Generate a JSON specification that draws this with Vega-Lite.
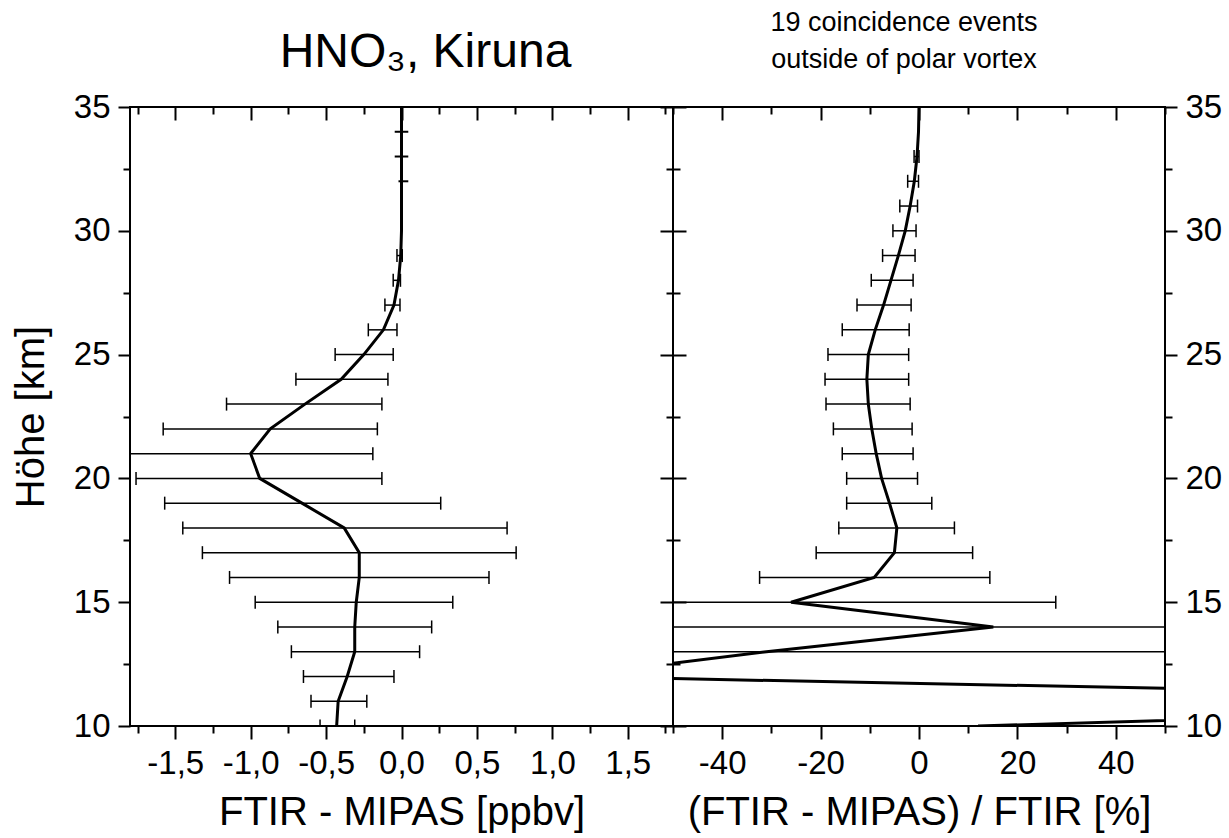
{
  "$schema": "https://vega.github.io/schema/vega-lite/v6.json",
  "autosize": "pad",
  "padding": {"left": 10, "top": 8, "right": 5, "bottom": 5},
  "background": "white",
  "bounds": "flush",
  "spacing": 0,
  "config": {
    "font": "Liberation Sans",
    "view": {"stroke": "black", "strokeWidth": 2},
    "axis": {
      "grid": false, "domain": false, "tickColor": "black", "tickWidth": 2,
      "labelColor": "black", "labelFont": "Liberation Sans", "labelFontSize": 33,
      "titleFont": "Liberation Sans", "titleFontSize": 40, "titleFontWeight": "normal", "titleColor": "black",
      "labelFlush": false, "labelOverlap": false
    },
    "title": {"font": "Liberation Sans", "fontWeight": "normal", "color": "black"}
  },
  "datasets": {
    "leftLine": [
      {"h": 35, "v": 0}, {"h": 34, "v": 0}, {"h": 33, "v": 0}, {"h": 32, "v": 0}, {"h": 31, "v": 0},
      {"h": 30, "v": 0}, {"h": 29, "v": -0.005}, {"h": 28, "v": -0.02}, {"h": 27, "v": -0.05},
      {"h": 26, "v": -0.12}, {"h": 25, "v": -0.25}, {"h": 24, "v": -0.40}, {"h": 23, "v": -0.64},
      {"h": 22, "v": -0.87}, {"h": 21, "v": -1.0}, {"h": 20, "v": -0.94}, {"h": 19, "v": -0.66},
      {"h": 18, "v": -0.38}, {"h": 17, "v": -0.28}, {"h": 16, "v": -0.28}, {"h": 15, "v": -0.30},
      {"h": 14, "v": -0.31}, {"h": 13, "v": -0.31}, {"h": 12, "v": -0.36}, {"h": 11, "v": -0.42},
      {"h": 10, "v": -0.43}
    ],
    "leftDash": [
      {"h": 34, "lo": -0.045, "hi": 0.045},
      {"h": 33, "lo": -0.045, "hi": 0.045},
      {"h": 32, "lo": -0.02, "hi": 0.045}
    ],
    "leftErr": [
      {"h": 29, "lo": -0.03, "hi": 0.005},
      {"h": 28, "lo": -0.055, "hi": -0.007},
      {"h": 27, "lo": -0.11, "hi": -0.01},
      {"h": 26, "lo": -0.22, "hi": -0.03},
      {"h": 25, "lo": -0.44, "hi": -0.055},
      {"h": 24, "lo": -0.70, "hi": -0.09},
      {"h": 23, "lo": -1.16, "hi": -0.13},
      {"h": 22, "lo": -1.58, "hi": -0.16},
      {"h": 21, "lo": -1.83, "hi": -0.19},
      {"h": 20, "lo": -1.76, "hi": -0.13},
      {"h": 19, "lo": -1.57, "hi": 0.26},
      {"h": 18, "lo": -1.45, "hi": 0.70},
      {"h": 17, "lo": -1.32, "hi": 0.76},
      {"h": 16, "lo": -1.14, "hi": 0.58},
      {"h": 15, "lo": -0.97, "hi": 0.34},
      {"h": 14, "lo": -0.82, "hi": 0.20},
      {"h": 13, "lo": -0.73, "hi": 0.12},
      {"h": 12, "lo": -0.65, "hi": -0.05},
      {"h": 11, "lo": -0.60, "hi": -0.23},
      {"h": 10, "lo": -0.54, "hi": -0.31}
    ],
    "rightLine": [
      {"h": 35, "v": 0}, {"h": 34, "v": -0.1}, {"h": 33, "v": -0.4}, {"h": 32, "v": -0.95},
      {"h": 31, "v": -1.8}, {"h": 30, "v": -2.8}, {"h": 29, "v": -4.2}, {"h": 28, "v": -5.7},
      {"h": 27, "v": -7.2}, {"h": 26, "v": -8.9}, {"h": 25, "v": -10.3}, {"h": 24, "v": -10.6},
      {"h": 23, "v": -10.3}, {"h": 22, "v": -9.6}, {"h": 21, "v": -8.7}, {"h": 20, "v": -7.6},
      {"h": 19, "v": -6.0}, {"h": 18, "v": -4.5}, {"h": 17, "v": -5.0}, {"h": 16, "v": -9.1},
      {"h": 15, "v": -26.0}, {"h": 14, "v": 15.1}, {"h": 13, "v": -31}, {"h": 12, "v": -72},
      {"h": 11, "v": 184}, {"h": 10, "v": 12}
    ],
    "rightErr": [
      {"h": 33, "lo": -1.0, "hi": 0.0},
      {"h": 32, "lo": -2.3, "hi": -0.1},
      {"h": 31, "lo": -3.9, "hi": -0.3},
      {"h": 30, "lo": -5.3, "hi": -0.6},
      {"h": 29, "lo": -7.4, "hi": -0.8},
      {"h": 28, "lo": -9.7, "hi": -1.2},
      {"h": 27, "lo": -12.6, "hi": -1.6},
      {"h": 26, "lo": -15.6, "hi": -2.0},
      {"h": 25, "lo": -18.5, "hi": -2.1},
      {"h": 24, "lo": -19.1, "hi": -2.1},
      {"h": 23, "lo": -18.9, "hi": -1.8},
      {"h": 22, "lo": -17.4, "hi": -1.4},
      {"h": 21, "lo": -15.6, "hi": -1.2},
      {"h": 20, "lo": -14.7, "hi": -0.3},
      {"h": 19, "lo": -14.7, "hi": 2.6},
      {"h": 18, "lo": -16.3, "hi": 7.2},
      {"h": 17, "lo": -20.9, "hi": 10.9},
      {"h": 16, "lo": -32.4, "hi": 14.4},
      {"h": 15, "lo": -79.8, "hi": 27.8},
      {"h": 14, "lo": -120, "hi": 150},
      {"h": 13, "lo": -150, "hi": 90}
    ]
  },
  "hconcat": [
    {
      "width": 543,
      "height": 619,
      "title": {"text": "HNO₃, Kiruna", "fontSize": 48, "anchor": "middle", "offset": 14, "dx": 24},
      "resolve": {"axis": {"x": "independent", "y": "independent"}},
      "layer": [
        {
          "data": {"name": "leftErr"},
          "mark": {"type": "rule", "color": "black", "strokeWidth": 1.5, "clip": true},
          "encoding": {
            "x": {"field": "lo", "type": "quantitative",
              "scale": {"domain": [-1.8, 1.8], "nice": false, "zero": false},
              "axis": {"orient": "bottom", "values": [-1.5, -1, -0.5, 0, 0.5, 1, 1.5],
                "labelExpr": "replace(replace(format(datum.value, '.1f'), '.', ','), '−', '-')",
                "tickSize": 13, "labelPadding": 8, "title": "FTIR - MIPAS [ppbv]", "titlePadding": 12}},
            "x2": {"field": "hi"},
            "y": {"field": "h", "type": "quantitative",
              "scale": {"domain": [10, 35], "nice": false, "zero": false},
              "axis": {"orient": "left", "values": [10, 15, 20, 25, 30, 35], "format": "d",
                "tickSize": 12, "labelPadding": 8, "title": "Höhe [km]", "titleFontSize": 40, "titlePadding": 22}}
          }
        },
        {
          "data": {"name": "leftErr"},
          "transform": [{"fold": ["lo", "hi"], "as": ["end", "xv"]}],
          "mark": {"type": "tick", "orient": "vertical", "color": "black", "size": 13, "thickness": 1.5, "opacity": 1, "clip": true},
          "encoding": {
            "x": {"field": "xv", "type": "quantitative",
              "axis": {"orient": "bottom", "values": [-1.75, -1.25, -0.75, -0.25, 0.25, 0.75, 1.25, 1.75],
                "labels": false, "tickSize": 7, "title": null}},
            "y": {"field": "h", "type": "quantitative",
              "axis": {"orient": "left", "values": [12.5, 17.5, 22.5, 27.5, 32.5], "labels": false, "tickSize": 7, "title": null}}
          }
        },
        {
          "data": {"name": "leftDash"},
          "mark": {"type": "rule", "color": "black", "strokeWidth": 2, "clip": true},
          "encoding": {
            "x": {"field": "lo", "type": "quantitative",
              "axis": {"orient": "bottom", "offset": -619, "values": [-1.5, -1, -0.5, 0, 0.5, 1, 1.5],
                "labels": false, "tickSize": 13, "title": null}},
            "x2": {"field": "hi"},
            "y": {"field": "h", "type": "quantitative",
              "axis": {"orient": "left", "offset": -543, "values": [10, 15, 20, 25, 30, 35], "labels": false, "tickSize": 13, "title": null}}
          }
        },
        {
          "data": {"name": "leftLine"},
          "mark": {"type": "line", "color": "black", "strokeWidth": 3, "clip": true},
          "encoding": {
            "x": {"field": "v", "type": "quantitative",
              "axis": {"orient": "bottom", "offset": -619, "values": [-1.75, -1.25, -0.75, -0.25, 0.25, 0.75, 1.25, 1.75],
                "labels": false, "tickSize": 7, "title": null}},
            "y": {"field": "h", "type": "quantitative",
              "axis": {"orient": "left", "offset": -543, "values": [12.5, 17.5, 22.5, 27.5, 32.5], "labels": false, "tickSize": 7, "title": null}},
            "order": {"field": "h", "type": "quantitative"}
          }
        },
        {
          "mark": {"type": "rule", "color": "black", "strokeWidth": 2},
          "encoding": {"x": {"datum": 0, "type": "quantitative", "axis": null}}
        }
      ]
    },
    {
      "width": 492,
      "height": 619,
      "title": {"text": ["19 coincidence events", "outside of polar vortex"], "fontSize": 27, "lineHeight": 37, "anchor": "middle", "offset": 17, "dx": -15},
      "resolve": {"axis": {"x": "independent", "y": "independent"}},
      "layer": [
        {
          "data": {"name": "rightErr"},
          "mark": {"type": "rule", "color": "black", "strokeWidth": 1.5, "clip": true},
          "encoding": {
            "x": {"field": "lo", "type": "quantitative",
              "scale": {"domain": [-50, 50], "nice": false, "zero": false},
              "axis": {"orient": "bottom", "values": [-40, -20, 0, 20, 40],
                "labelExpr": "replace(format(datum.value, 'd'), '−', '-')",
                "tickSize": 13, "labelPadding": 8, "title": "(FTIR - MIPAS) / FTIR [%]", "titlePadding": 12}},
            "x2": {"field": "hi"},
            "y": {"field": "h", "type": "quantitative",
              "scale": {"domain": [10, 35], "nice": false, "zero": false},
              "axis": {"orient": "right", "values": [10, 15, 20, 25, 30, 35], "format": "d",
                "tickSize": 12, "labelPadding": 8, "title": null}}
          }
        },
        {
          "data": {"name": "rightErr"},
          "transform": [{"fold": ["lo", "hi"], "as": ["end", "xv"]}],
          "mark": {"type": "tick", "orient": "vertical", "color": "black", "size": 13, "thickness": 1.5, "opacity": 1, "clip": true},
          "encoding": {
            "x": {"field": "xv", "type": "quantitative",
              "axis": {"orient": "bottom", "values": [-50, -30, -10, 10, 30, 50], "labels": false, "tickSize": 7, "title": null}},
            "y": {"field": "h", "type": "quantitative",
              "axis": {"orient": "right", "values": [12.5, 17.5, 22.5, 27.5, 32.5], "labels": false, "tickSize": 7, "title": null}}
          }
        },
        {
          "data": {"name": "rightLine"},
          "mark": {"type": "line", "color": "black", "strokeWidth": 3, "clip": true},
          "encoding": {
            "x": {"field": "v", "type": "quantitative",
              "axis": {"orient": "bottom", "offset": -619, "values": [-40, -20, 0, 20, 40], "labels": false, "tickSize": 13, "title": null}},
            "y": {"field": "h", "type": "quantitative",
              "axis": {"orient": "right", "offset": -492, "values": [10, 15, 20, 25, 30, 35], "labels": false, "tickSize": 13, "title": null}},
            "order": {"field": "h", "type": "quantitative"}
          }
        },
        {
          "data": {"name": "rightLine"},
          "mark": {"type": "point", "opacity": 0},
          "encoding": {
            "x": {"field": "v", "type": "quantitative",
              "axis": {"orient": "bottom", "offset": -619, "values": [-50, -30, -10, 10, 30, 50], "labels": false, "tickSize": 7, "title": null}},
            "y": {"field": "h", "type": "quantitative",
              "axis": {"orient": "right", "offset": -492, "values": [12.5, 17.5, 22.5, 27.5, 32.5], "labels": false, "tickSize": 7, "title": null}}
          }
        },
        {
          "mark": {"type": "rule", "color": "black", "strokeWidth": 2},
          "encoding": {"x": {"datum": 0, "type": "quantitative", "axis": null}}
        }
      ]
    }
  ]
}
